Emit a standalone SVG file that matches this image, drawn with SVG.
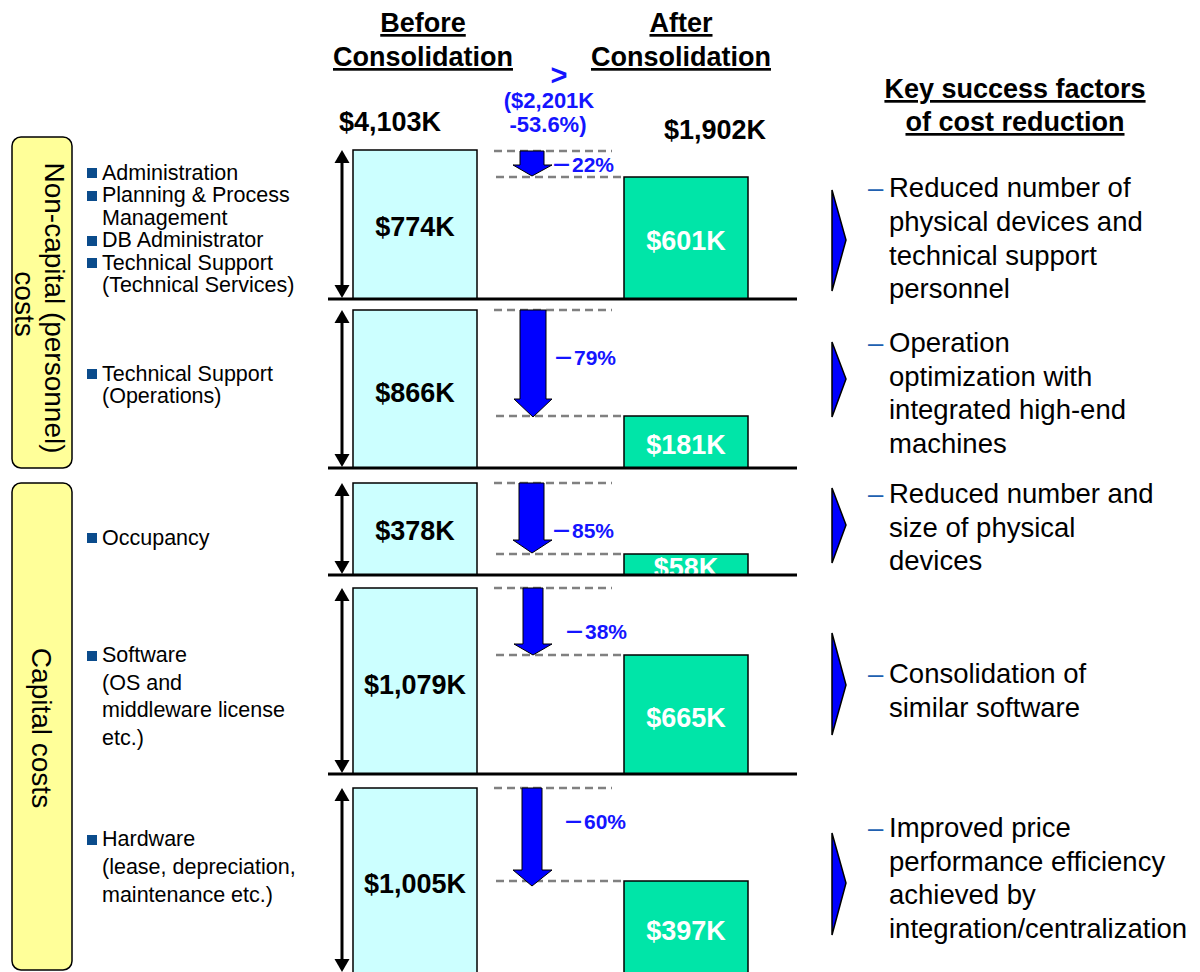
<svg xmlns="http://www.w3.org/2000/svg" width="1200" height="972" viewBox="0 0 1200 972">
<style>
.hdr{font-family:"Liberation Sans",Arial,sans-serif;font-weight:bold;font-size:27px;fill:#000;text-anchor:middle;text-decoration:underline}
.tot{font-family:"Liberation Sans",Arial,sans-serif;font-weight:bold;font-size:27px;fill:#000}
.blue{font-family:"Liberation Sans",Arial,sans-serif;font-weight:bold;fill:#1414FF;text-anchor:middle}
.pct{font-family:"Liberation Sans","Noto Sans CJK JP",sans-serif;font-weight:bold;font-size:21px;fill:#1414FF}
.bef{fill:#CCFFFF;stroke:#000;stroke-width:1.5}
.aft{fill:#00E5A8;stroke:#000;stroke-width:1.5}
.vb{font-family:"Liberation Sans",Arial,sans-serif;font-weight:bold;font-size:27px;fill:#000;text-anchor:middle}
.va{font-family:"Liberation Sans",Arial,sans-serif;font-weight:bold;font-size:27px;fill:#fff;text-anchor:middle}
.base{stroke:#000;stroke-width:3}
.dash{stroke:#808080;stroke-width:2.5;stroke-dasharray:8 5;fill:none}
.barrow{fill:#0000FF;stroke:#000;stroke-width:1}
.dbl{stroke:#000;stroke-width:3}
.head{fill:#000}
.chev{fill:#0000FF;stroke:#000;stroke-width:1.5}
.cat{fill:#FFFF99;stroke:#000;stroke-width:1.5}
.cattxt{font-family:"Liberation Sans",Arial,sans-serif;font-size:28px;fill:#000;text-anchor:middle}
.lbl{font-family:"Liberation Sans",Arial,sans-serif;font-size:21.5px;fill:#000}
.bul{fill:#0B4C8C}
.ksf{font-family:"Liberation Sans",Arial,sans-serif;font-size:27.5px;fill:#000}
.kd{font-family:"Liberation Sans",Arial,sans-serif;font-size:27.5px;fill:#2060B0}
</style>

<g id="header">
<text class="hdr" x="423" y="32">Before</text>
<text class="hdr" x="423" y="66">Consolidation</text>
<text class="hdr" x="681" y="32">After</text>
<text class="hdr" x="681" y="66">Consolidation</text>
<text class="blue" x="559" y="85" font-size="29">&gt;</text>
<text class="blue" x="549" y="108" font-size="22">($2,201K</text>
<text class="blue" x="548" y="132" font-size="22">-53.6%)</text>
<text class="tot" x="339" y="131">$4,103K</text>
<text class="tot" x="664" y="139">$1,902K</text>
<text class="hdr" x="1015" y="98">Key success factors</text>
<text class="hdr" x="1015" y="131">of cost reduction</text>
</g>

<g id="cat-noncapital">
<rect class="cat" x="12" y="137" width="60" height="331" rx="9"/>
<text class="cattxt" transform="translate(45,308) rotate(90)">Non-capital (personnel)</text>
<text class="cattxt" transform="translate(15,304) rotate(90)">costs</text>
</g>
<g id="cat-capital">
<rect class="cat" x="12" y="483" width="60" height="487" rx="9"/>
<text class="cattxt" transform="translate(32,728) rotate(90)">Capital costs</text>
</g>

<g id="labels">
<rect class="bul" x="87" y="168" width="10" height="10"/>
<rect class="bul" x="87" y="191" width="10" height="10"/>
<rect class="bul" x="87" y="236" width="10" height="10"/>
<rect class="bul" x="87" y="258" width="10" height="10"/>
<text class="lbl" x="102" y="180">Administration</text>
<text class="lbl" x="102" y="202">Planning &amp; Process</text>
<text class="lbl" x="102" y="224.5">Management</text>
<text class="lbl" x="102" y="247">DB Administrator</text>
<text class="lbl" x="102" y="269.5">Technical Support</text>
<text class="lbl" x="102" y="292">(Technical Services)</text>
<rect class="bul" x="87" y="369" width="10" height="10"/>
<text class="lbl" x="102" y="380.5">Technical Support</text>
<text class="lbl" x="102" y="403">(Operations)</text>
<rect class="bul" x="87" y="533" width="10" height="10"/>
<text class="lbl" x="102" y="544.5">Occupancy</text>
<rect class="bul" x="87" y="651" width="10" height="10"/>
<text class="lbl" x="102" y="662">Software</text>
<text class="lbl" x="102" y="689.5">(OS and</text>
<text class="lbl" x="102" y="717">middleware license</text>
<text class="lbl" x="102" y="745">etc.)</text>
<rect class="bul" x="87" y="835" width="10" height="10"/>
<text class="lbl" x="102" y="846">Hardware</text>
<text class="lbl" x="102" y="874">(lease, depreciation,</text>
<text class="lbl" x="102" y="902">maintenance etc.)</text>
</g>

<g id="row1">
<rect class="bef" x="353" y="150" width="124" height="149"/>
<text class="vb" x="415" y="236">$774K</text>
<rect class="aft" x="624" y="177" width="124" height="122"/>
<text class="va" x="686" y="250">$601K</text>
</g>
<g id="row2">
<rect class="bef" x="353" y="310" width="124" height="158"/>
<text class="vb" x="415" y="402">$866K</text>
<rect class="aft" x="624" y="416" width="124" height="52"/>
<text class="va" x="686" y="454">$181K</text>
</g>
<g id="row3">
<rect class="bef" x="353" y="483" width="124" height="92"/>
<text class="vb" x="415" y="540">$378K</text>
<rect class="aft" x="624" y="554" width="124" height="21"/>
<text class="va" x="686" y="577">$58K</text>
</g>
<g id="row4">
<rect class="bef" x="353" y="588" width="124" height="186"/>
<text class="vb" x="415" y="694">$1,079K</text>
<rect class="aft" x="624" y="655" width="124" height="119"/>
<text class="va" x="686" y="727">$665K</text>
</g>
<g id="row5">
<rect class="bef" x="353" y="788" width="124" height="200"/>
<text class="vb" x="415" y="893">$1,005K</text>
<rect class="aft" x="624" y="881" width="124" height="107"/>
<text class="va" x="686" y="940">$397K</text>
</g>

<g id="pct-labels">
<text class="pct" x="551" y="172">－22%</text>
<text class="pct" x="553" y="365">－79%</text>
<text class="pct" x="551" y="538">－85%</text>
<text class="pct" x="564" y="639">－38%</text>
<text class="pct" x="563" y="829">－60%</text>
</g>

<g id="key-factors">
<text class="kd" x="868" y="197">–</text>
<text class="ksf" x="889" y="197">Reduced number of</text>
<text class="ksf" x="889" y="231">physical devices and</text>
<text class="ksf" x="889" y="264.5">technical support</text>
<text class="ksf" x="889" y="298">personnel</text>
<text class="kd" x="868" y="352">–</text>
<text class="ksf" x="889" y="352">Operation</text>
<text class="ksf" x="889" y="385.5">optimization with</text>
<text class="ksf" x="889" y="419">integrated high-end</text>
<text class="ksf" x="889" y="452.5">machines</text>
<text class="kd" x="868" y="503">–</text>
<text class="ksf" x="889" y="503">Reduced number and</text>
<text class="ksf" x="889" y="536.5">size of physical</text>
<text class="ksf" x="889" y="570">devices</text>
<text class="kd" x="868" y="683">–</text>
<text class="ksf" x="889" y="683">Consolidation of</text>
<text class="ksf" x="889" y="717">similar software</text>
<text class="kd" x="868" y="837">–</text>
<text class="ksf" x="889" y="837">Improved price</text>
<text class="ksf" x="889" y="870.5">performance efficiency</text>
<text class="ksf" x="889" y="904">achieved by</text>
<text class="ksf" x="889" y="938">integration/centralization</text>
</g>

<g id="connectors">
<line class="base" x1="328" y1="299" x2="797" y2="299"/>
<line class="base" x1="328" y1="468" x2="797" y2="468"/>
<line class="base" x1="328" y1="575" x2="797" y2="575"/>
<line class="base" x1="328" y1="774" x2="797" y2="774"/>

<line class="dash" x1="494" y1="151" x2="612" y2="151"/>
<line class="dash" x1="496" y1="177" x2="622" y2="177"/>
<line class="dash" x1="494" y1="310" x2="612" y2="310"/>
<line class="dash" x1="496" y1="416" x2="622" y2="416"/>
<line class="dash" x1="494" y1="483" x2="612" y2="483"/>
<line class="dash" x1="496" y1="554" x2="622" y2="554"/>
<line class="dash" x1="494" y1="588" x2="612" y2="588"/>
<line class="dash" x1="496" y1="655" x2="622" y2="655"/>
<line class="dash" x1="494" y1="788" x2="612" y2="788"/>
<line class="dash" x1="496" y1="881" x2="622" y2="881"/>

<polygon class="barrow" points="520,151 544,151 544,165 552,165 532,176 513,165 520,165"/>
<polygon class="barrow" points="520,310 546,310 546,399 552,399 533,417 514,399 520,399"/>
<polygon class="barrow" points="519,483 544,483 544,540 552,540 532,553 513,540 519,540"/>
<polygon class="barrow" points="523,588 543,588 543,644 552,644 533,655 514,644 523,644"/>
<polygon class="barrow" points="522,788 542,788 542,870 552,870 532,886 513,870 522,870"/>

<line class="dbl" x1="342" y1="160" x2="342" y2="289"/>
<polygon class="head" points="342,150 349.5,163 334.5,163"/>
<polygon class="head" points="342,298 349.5,285 334.5,285"/>
<line class="dbl" x1="342" y1="320" x2="342" y2="458"/>
<polygon class="head" points="342,310 349.5,323 334.5,323"/>
<polygon class="head" points="342,467 349.5,454 334.5,454"/>
<line class="dbl" x1="342" y1="493" x2="342" y2="565"/>
<polygon class="head" points="342,483 349.5,496 334.5,496"/>
<polygon class="head" points="342,574 349.5,561 334.5,561"/>
<line class="dbl" x1="342" y1="598" x2="342" y2="764"/>
<polygon class="head" points="342,588 349.5,601 334.5,601"/>
<polygon class="head" points="342,773 349.5,760 334.5,760"/>
<line class="dbl" x1="342" y1="798" x2="342" y2="962"/>
<polygon class="head" points="342,788 349.5,801 334.5,801"/>
<polygon class="head" points="342,972 349.5,959 334.5,959"/>

<polygon class="chev" points="832,190 846,240 832,291"/>
<polygon class="chev" points="832,342 846,379 832,417"/>
<polygon class="chev" points="832,488 846,525 832,563"/>
<polygon class="chev" points="832,633 846,685 832,735"/>
<polygon class="chev" points="832,833 846,883 832,935"/>
</g>
</svg>
